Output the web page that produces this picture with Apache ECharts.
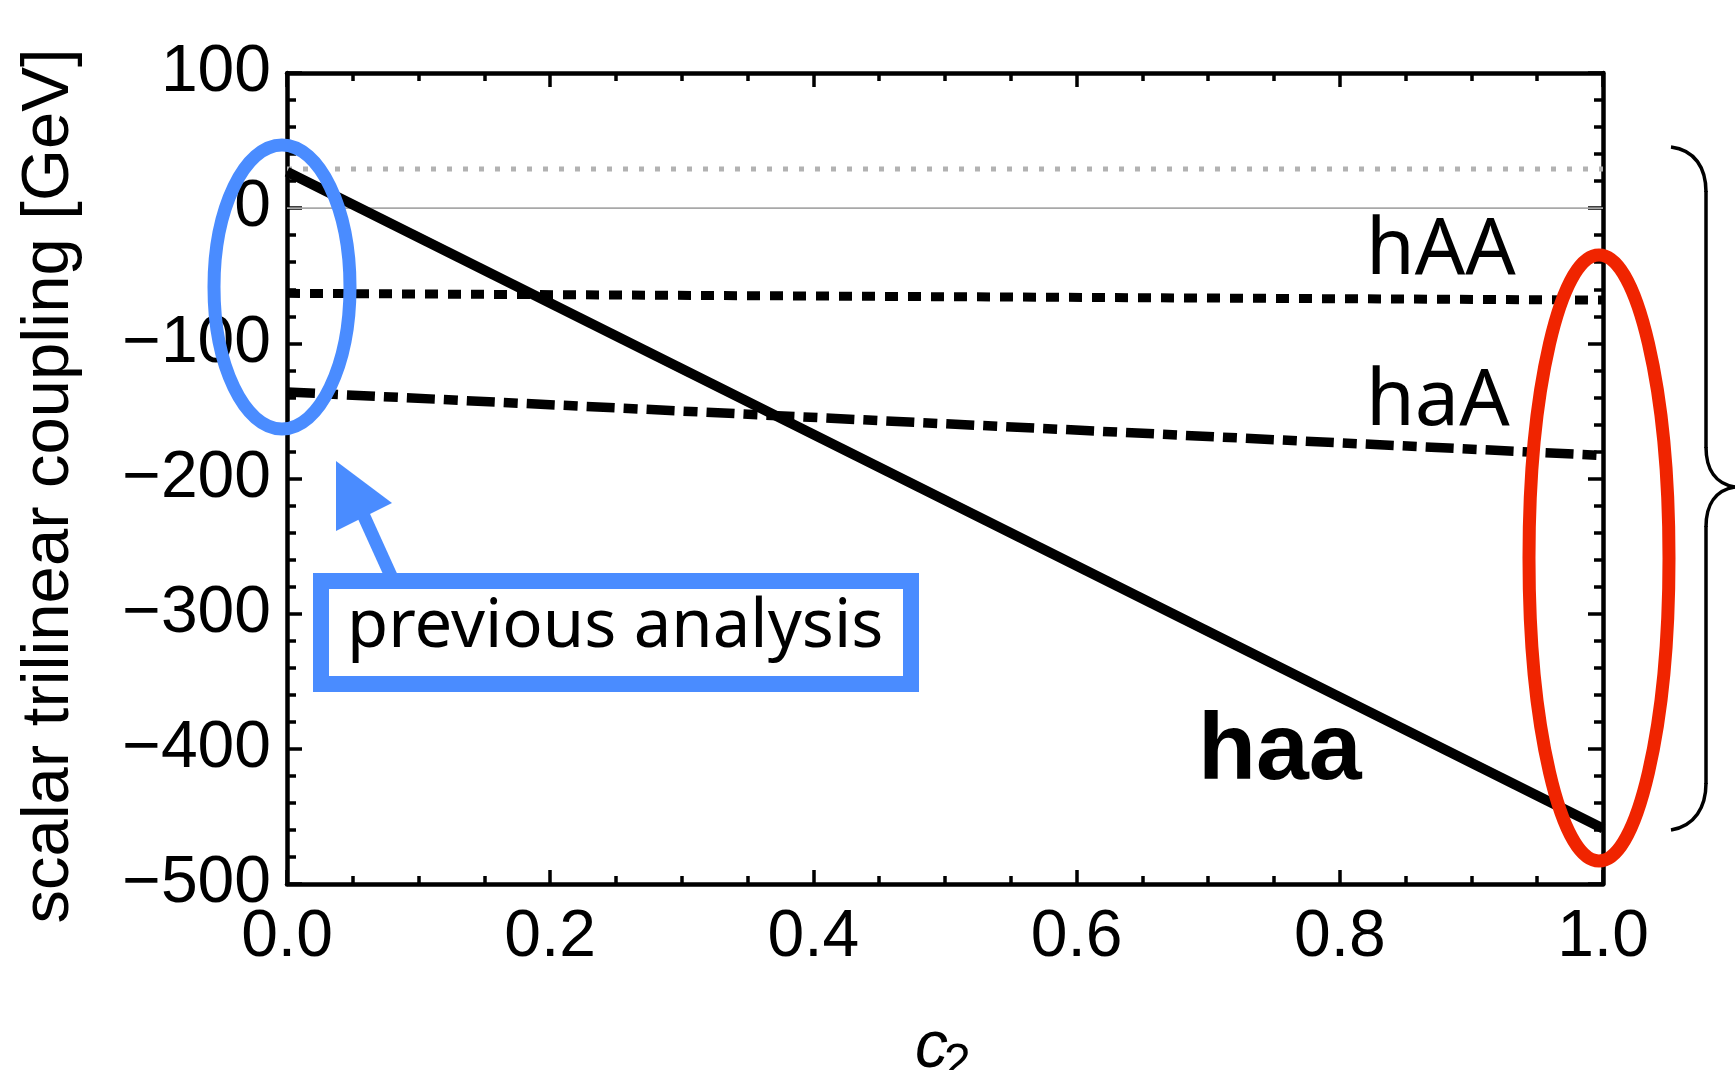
<!DOCTYPE html>
<html>
<head>
<meta charset="utf-8">
<title>scalar trilinear coupling vs c2</title>
<script src="https://cdn.jsdelivr.net/npm/echarts@6/dist/echarts.min.js"></script>
<style>
  html, body { margin: 0; padding: 0; background: #fff; }
  #chart { width: 1735px; height: 1070px; }
</style>
</head>
<body>
<div id="chart"></div>
<script>
// c2 sampled at the two ends, every curve is a straight line
const c2 = [0, 1];
const haa = [27, -459];
const hAA = [-63, -68];
const haA = [-136, -183];
const previous = [29, 29];   // grey dotted reference
const zero = [0, 0];

const xTickLabels = ['0.0', '0.2', '0.4', '0.6', '0.8', '1.0'];
const yTickValues = [100, 0, -100, -200, -300, -400, -500];

const BLUE = '#4a8cff';
const RED = '#f02400';
const SANS = '"Liberation Sans", Arial, sans-serif';
const NOTO = '"Noto Sans", sans-serif';

const pts = (ys) => c2.map((x, i) => [x, ys[i]]);

const chart = echarts.init(document.getElementById('chart'));

function xAxisCfg(pos) {
  return {
    type: 'value',
    position: pos,
    min: 0,
    max: 1,
    interval: 0.2,
    axisLine: { show: true, onZero: false, lineStyle: { color: '#000', width: 4.5 } },
    axisTick: { show: true, inside: true, length: 14, lineStyle: { color: '#000', width: 3.5 } },
    minorTick: { show: true, splitNumber: 4, length: 8, lineStyle: { color: '#000', width: 3.5 } },
    axisLabel: {
      show: pos === 'bottom',
      margin: 21,
      fontSize: 66,
      fontFamily: SANS,
      color: '#000',
      formatter: (v) => xTickLabels[Math.round(v * 5)],
    },
    splitLine: { show: false },
    minorSplitLine: { show: false },
  };
}

function yAxisCfg(pos) {
  return {
    type: 'value',
    position: pos,
    min: -500,
    max: 100,
    interval: 100,
    axisLine: { show: true, onZero: false, lineStyle: { color: '#000', width: 4.5 } },
    axisTick: { show: true, inside: true, length: 15, lineStyle: { color: '#000', width: 3.5 } },
    minorTick: { show: true, splitNumber: 5, length: 9, lineStyle: { color: '#000', width: 3.5 } },
    axisLabel: {
      show: pos === 'left',
      margin: 16,
      fontSize: 66,
      fontFamily: SANS,
      color: '#000',
      formatter: (v) => {
        const t = yTickValues.find((y) => Math.abs(y - v) < 1e-6);
        return t < 0 ? '\u2212' + (-t) : String(t);
      },
    },
    splitLine: { show: false },
    minorSplitLine: { show: false },
  };
}

function lineSeries(name, ys, style) {
  return {
    name,
    type: 'line',
    data: pts(ys),
    showSymbol: false,
    symbol: 'none',
    silent: true,
    lineStyle: Object.assign({ color: '#000', cap: 'butt' }, style),
  };
}

// curly brace pieces
const brace = { stroke: '#000', lineWidth: 3.5, fill: 'none' };
const braceParts = [
  { type: 'bezierCurve', shape: { x1: 1671, y1: 147, cpx1: 1695, cpy1: 150, cpx2: 1706, cpy2: 168, x2: 1706, y2: 192 } },
  { type: 'line', shape: { x1: 1706, y1: 191, x2: 1706, y2: 448 } },
  { type: 'bezierCurve', shape: { x1: 1706, y1: 447, cpx1: 1706, cpy1: 470, cpx2: 1716, cpy2: 484, x2: 1735, y2: 487 } },
  { type: 'bezierCurve', shape: { x1: 1735, y1: 487, cpx1: 1716, cpy1: 490, cpx2: 1706, cpy2: 504, x2: 1706, y2: 527 } },
  { type: 'line', shape: { x1: 1706, y1: 526, x2: 1706, y2: 784 } },
  { type: 'bezierCurve', shape: { x1: 1706, y1: 783, cpx1: 1706, cpy1: 807, cpx2: 1695, cpy2: 826, x2: 1671, y2: 830 } },
].map((p) => Object.assign(p, { z: 100, style: brace }));

const option = {
  animation: false,
  backgroundColor: '#fff',
  grid: {
    left: 287,
    right: 132,
    top: 73,
    bottom: 186,
    containLabel: false,
    outerBoundsMode: 'none',
  },
  xAxis: [xAxisCfg('bottom'), xAxisCfg('top')],
  yAxis: [yAxisCfg('left'), yAxisCfg('right')],
  series: [
    lineSeries('zero', zero, { color: '#a8a8a8', width: 1.8 }),
    lineSeries('previous', previous, { color: '#b2b2b2', width: 5, type: [5, 11] }),
    lineSeries('haA', haA, { width: 9.5, type: [28, 9, 14, 9] }),
    lineSeries('hAA', hAA, { width: 9, type: [13, 10] }),
    lineSeries('haa', haa, { width: 10 }),
  ],
  graphic: [
    // y axis title
    {
      type: 'text', x: 50, y: 486, rotation: Math.PI / 2, z: 100,
      style: { text: 'scalar trilinear coupling [GeV]', font: '67px ' + SANS, fill: '#000', align: 'center', verticalAlign: 'middle' },
    },
    // x axis title c_2
    {
      type: 'text', x: 915, y: 1049, z: 100,
      style: { text: 'c', font: 'italic 66px ' + SANS, fill: '#000', align: 'left', verticalAlign: 'middle' },
    },
    {
      type: 'text', x: 944, y: 1064, z: 100,
      style: { text: '2', font: '48px ' + SANS, fill: '#000', align: 'left', verticalAlign: 'middle' },
    },
    // curve labels
    {
      type: 'text', x: 1366, y: 251, z: 100,
      style: { text: 'hAA', font: '79px ' + NOTO, fill: '#000', align: 'left', verticalAlign: 'middle' },
    },
    {
      type: 'text', x: 1366, y: 402, z: 100,
      style: { text: 'haA', font: '79px ' + NOTO, fill: '#000', align: 'left', verticalAlign: 'middle' },
    },
    {
      type: 'text', x: 1198, y: 753, z: 100,
      style: { text: 'haa', font: 'bold 95px ' + SANS, fill: '#000', align: 'left', verticalAlign: 'middle' },
    },
    // previous analysis: ellipse, arrow and box
    {
      type: 'ellipse', z: 100,
      shape: { cx: 282, cy: 287, rx: 68, ry: 142 },
      style: { fill: 'none', stroke: BLUE, lineWidth: 13 },
    },
    {
      type: 'line', z: 100,
      shape: { x1: 391, y1: 576, x2: 362, y2: 512 },
      style: { stroke: BLUE, lineWidth: 13 },
    },
    {
      type: 'polygon', z: 100,
      shape: { points: [[336, 461], [392, 503], [336, 531]] },
      style: { fill: BLUE },
    },
    {
      type: 'rect', z: 100,
      shape: { x: 321, y: 581, width: 590, height: 103 },
      style: { fill: '#fff', stroke: BLUE, lineWidth: 16 },
    },
    {
      type: 'text', x: 347, y: 628, z: 101,
      style: { text: 'previous analysis', font: '67px ' + NOTO, fill: '#000', align: 'left', verticalAlign: 'middle' },
    },
    // this work: red ellipse at c2 = 1
    {
      type: 'ellipse', z: 100,
      shape: { cx: 1599, cy: 558, rx: 70, ry: 303 },
      style: { fill: 'none', stroke: RED, lineWidth: 13 },
    },
  ].concat(braceParts),
};

chart.setOption(option);
</script>
</body>
</html>
